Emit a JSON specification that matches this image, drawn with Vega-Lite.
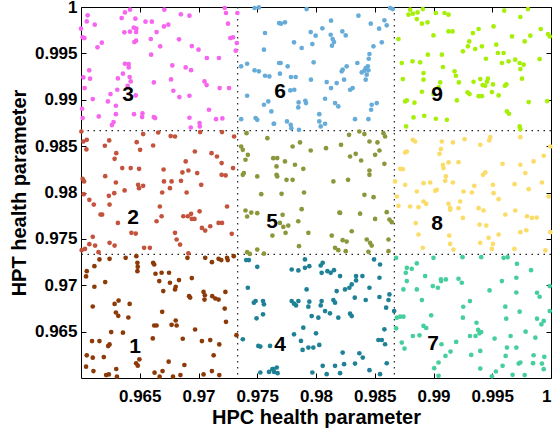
{
"$schema":"https://vega.github.io/schema/vega-lite/v6.json",
"width":470,"height":371,
"autosize":"none",
"padding":{"left":81,"top":7,"right":2,"bottom":51},
"background":"white",
"config":{"view":{"stroke":"black","strokeWidth":1},
"axis":{"labelFont":"Liberation Sans","labelFontWeight":"bold","labelFontSize":17,"labelColor":"black","titleFont":"Liberation Sans","titleFontWeight":"bold","titleFontSize":20,"titleColor":"black","grid":false,"domain":false,"tickColor":"black","tickSize":-5,"tickWidth":1}},
"datasets":{
"points":[
{"hpc":0.96049,"hpt":0.97152,"cluster":"1"},{"hpc":0.96114,"hpt":0.97206,"cluster":"1"},{"hpc":0.96157,"hpt":0.97278,"cluster":"1"},{"hpc":0.96243,"hpt":0.97285,"cluster":"1"},{"hpc":0.9638,"hpt":0.97296,"cluster":"1"},{"hpc":0.96471,"hpt":0.97314,"cluster":"1"},{"hpc":0.9648,"hpt":0.97242,"cluster":"1"},{"hpc":0.96483,"hpt":0.97199,"cluster":"1"},{"hpc":0.9648,"hpt":0.97152,"cluster":"1"},{"hpc":0.96614,"hpt":0.97242,"cluster":"1"},{"hpc":0.96623,"hpt":0.97224,"cluster":"1"},{"hpc":0.96634,"hpt":0.97124,"cluster":"1"},{"hpc":0.96686,"hpt":0.97135,"cluster":"1"},{"hpc":0.96666,"hpt":0.97045,"cluster":"1"},{"hpc":0.967,"hpt":0.96937,"cluster":"1"},{"hpc":0.96749,"hpt":0.97135,"cluster":"1"},{"hpc":0.96757,"hpt":0.97027,"cluster":"1"},{"hpc":0.968,"hpt":0.96955,"cluster":"1"},{"hpc":0.96806,"hpt":0.96984,"cluster":"1"},{"hpc":0.96834,"hpt":0.97056,"cluster":"1"},{"hpc":0.96906,"hpt":0.97296,"cluster":"1"},{"hpc":0.96943,"hpt":0.97077,"cluster":"1"},{"hpc":0.9692,"hpt":0.96882,"cluster":"1"},{"hpc":0.96929,"hpt":0.96867,"cluster":"1"},{"hpc":0.97043,"hpt":0.96928,"cluster":"1"},{"hpc":0.97054,"hpt":0.96892,"cluster":"1"},{"hpc":0.97051,"hpt":0.96846,"cluster":"1"},{"hpc":0.97057,"hpt":0.97296,"cluster":"1"},{"hpc":0.97114,"hpt":0.97249,"cluster":"1"},{"hpc":0.97171,"hpt":0.97285,"cluster":"1"},{"hpc":0.97194,"hpt":0.97271,"cluster":"1"},{"hpc":0.97243,"hpt":0.97296,"cluster":"1"},{"hpc":0.97249,"hpt":0.97271,"cluster":"1"},{"hpc":0.973,"hpt":0.97314,"cluster":"1"},{"hpc":0.97229,"hpt":0.96928,"cluster":"1"},{"hpc":0.97117,"hpt":0.96882,"cluster":"1"},{"hpc":0.97143,"hpt":0.96857,"cluster":"1"},{"hpc":0.97171,"hpt":0.96846,"cluster":"1"},{"hpc":0.97223,"hpt":0.96749,"cluster":"1"},{"hpc":0.97234,"hpt":0.96606,"cluster":"1"},{"hpc":0.97323,"hpt":0.96462,"cluster":"1"},{"hpc":0.96043,"hpt":0.97095,"cluster":"1"},{"hpc":0.96114,"hpt":0.96984,"cluster":"1"},{"hpc":0.96206,"hpt":0.97034,"cluster":"1"},{"hpc":0.961,"hpt":0.96771,"cluster":"1"},{"hpc":0.96286,"hpt":0.96799,"cluster":"1"},{"hpc":0.9632,"hpt":0.96835,"cluster":"1"},{"hpc":0.96297,"hpt":0.96706,"cluster":"1"},{"hpc":0.96317,"hpt":0.9667,"cluster":"1"},{"hpc":0.96403,"hpt":0.96652,"cluster":"1"},{"hpc":0.96414,"hpt":0.96799,"cluster":"1"},{"hpc":0.96357,"hpt":0.96489,"cluster":"1"},{"hpc":0.96257,"hpt":0.96495,"cluster":"1"},{"hpc":0.96243,"hpt":0.96362,"cluster":"1"},{"hpc":0.96231,"hpt":0.96344,"cluster":"1"},{"hpc":0.96157,"hpt":0.96398,"cluster":"1"},{"hpc":0.96094,"hpt":0.96398,"cluster":"1"},{"hpc":0.96049,"hpt":0.96244,"cluster":"1"},{"hpc":0.961,"hpt":0.96219,"cluster":"1"},{"hpc":0.96043,"hpt":0.96122,"cluster":"1"},{"hpc":0.96106,"hpt":0.96075,"cluster":"1"},{"hpc":0.96194,"hpt":0.96226,"cluster":"1"},{"hpc":0.96214,"hpt":0.96032,"cluster":"1"},{"hpc":0.96237,"hpt":0.96039,"cluster":"1"},{"hpc":0.963,"hpt":0.96097,"cluster":"1"},{"hpc":0.96306,"hpt":0.96014,"cluster":"1"},{"hpc":0.96469,"hpt":0.96158,"cluster":"1"},{"hpc":0.96483,"hpt":0.96133,"cluster":"1"},{"hpc":0.96497,"hpt":0.96201,"cluster":"1"},{"hpc":0.96611,"hpt":0.96427,"cluster":"1"},{"hpc":0.96623,"hpt":0.96566,"cluster":"1"},{"hpc":0.96643,"hpt":0.96566,"cluster":"1"},{"hpc":0.96691,"hpt":0.96713,"cluster":"1"},{"hpc":0.96626,"hpt":0.96057,"cluster":"1"},{"hpc":0.96669,"hpt":0.96014,"cluster":"1"},{"hpc":0.96694,"hpt":0.96075,"cluster":"1"},{"hpc":0.96746,"hpt":0.96176,"cluster":"1"},{"hpc":0.96783,"hpt":0.96014,"cluster":"1"},{"hpc":0.96846,"hpt":0.96032,"cluster":"1"},{"hpc":0.9688,"hpt":0.9614,"cluster":"1"},{"hpc":0.96771,"hpt":0.96573,"cluster":"1"},{"hpc":0.96806,"hpt":0.9662,"cluster":"1"},{"hpc":0.96814,"hpt":0.96566,"cluster":"1"},{"hpc":0.96866,"hpt":0.96423,"cluster":"1"},{"hpc":0.96971,"hpt":0.96523,"cluster":"1"},{"hpc":0.97029,"hpt":0.96398,"cluster":"1"},{"hpc":0.971,"hpt":0.96409,"cluster":"1"},{"hpc":0.97177,"hpt":0.96362,"cluster":"1"},{"hpc":0.97129,"hpt":0.96244,"cluster":"1"},{"hpc":0.97114,"hpt":0.96075,"cluster":"1"},{"hpc":0.97043,"hpt":0.96039,"cluster":"1"},{"hpc":0.97177,"hpt":0.96032,"cluster":"1"},
{"hpc":0.96003,"hpt":0.98658,"cluster":"2"},{"hpc":0.9602,"hpt":0.9855,"cluster":"2"},{"hpc":0.96049,"hpt":0.98568,"cluster":"2"},{"hpc":0.96046,"hpt":0.98464,"cluster":"2"},{"hpc":0.96014,"hpt":0.98147,"cluster":"2"},{"hpc":0.96026,"hpt":0.98119,"cluster":"2"},{"hpc":0.96023,"hpt":0.97982,"cluster":"2"},{"hpc":0.96071,"hpt":0.97921,"cluster":"2"},{"hpc":0.96109,"hpt":0.9787,"cluster":"2"},{"hpc":0.96203,"hpt":0.98504,"cluster":"2"},{"hpc":0.9624,"hpt":0.98561,"cluster":"2"},{"hpc":0.963,"hpt":0.98424,"cluster":"2"},{"hpc":0.96286,"hpt":0.98363,"cluster":"2"},{"hpc":0.96297,"hpt":0.98108,"cluster":"2"},{"hpc":0.96283,"hpt":0.97993,"cluster":"2"},{"hpc":0.96237,"hpt":0.97964,"cluster":"2"},{"hpc":0.96243,"hpt":0.9787,"cluster":"2"},{"hpc":0.96206,"hpt":0.98176,"cluster":"2"},{"hpc":0.96166,"hpt":0.97763,"cluster":"2"},{"hpc":0.96351,"hpt":0.98263,"cluster":"2"},{"hpc":0.96371,"hpt":0.98022,"cluster":"2"},{"hpc":0.96423,"hpt":0.98263,"cluster":"2"},{"hpc":0.96474,"hpt":0.98543,"cluster":"2"},{"hpc":0.96503,"hpt":0.9846,"cluster":"2"},{"hpc":0.96494,"hpt":0.98255,"cluster":"2"},{"hpc":0.96486,"hpt":0.98083,"cluster":"2"},{"hpc":0.96494,"hpt":0.98047,"cluster":"2"},{"hpc":0.96529,"hpt":0.98072,"cluster":"2"},{"hpc":0.96529,"hpt":0.9863,"cluster":"2"},{"hpc":0.96614,"hpt":0.98507,"cluster":"2"},{"hpc":0.96657,"hpt":0.98647,"cluster":"2"},{"hpc":0.96703,"hpt":0.98248,"cluster":"2"},{"hpc":0.96706,"hpt":0.98119,"cluster":"2"},{"hpc":0.96691,"hpt":0.98,"cluster":"2"},{"hpc":0.96671,"hpt":0.97849,"cluster":"2"},{"hpc":0.96763,"hpt":0.98608,"cluster":"2"},{"hpc":0.968,"hpt":0.98604,"cluster":"2"},{"hpc":0.96771,"hpt":0.98119,"cluster":"2"},{"hpc":0.96757,"hpt":0.98047,"cluster":"2"},{"hpc":0.96851,"hpt":0.98126,"cluster":"2"},{"hpc":0.96863,"hpt":0.98216,"cluster":"2"},{"hpc":0.96891,"hpt":0.98335,"cluster":"2"},{"hpc":0.96914,"hpt":0.98237,"cluster":"2"},{"hpc":0.96899,"hpt":0.98,"cluster":"2"},{"hpc":0.96937,"hpt":0.9777,"cluster":"2"},{"hpc":0.96969,"hpt":0.98442,"cluster":"2"},{"hpc":0.96989,"hpt":0.98209,"cluster":"2"},{"hpc":0.97023,"hpt":0.98083,"cluster":"2"},{"hpc":0.97014,"hpt":0.98651,"cluster":"2"},{"hpc":0.97111,"hpt":0.98424,"cluster":"2"},{"hpc":0.97157,"hpt":0.98388,"cluster":"2"},{"hpc":0.97197,"hpt":0.98317,"cluster":"2"},{"hpc":0.97197,"hpt":0.98191,"cluster":"2"},{"hpc":0.97243,"hpt":0.97849,"cluster":"2"},{"hpc":0.97294,"hpt":0.98263,"cluster":"2"},{"hpc":0.97303,"hpt":0.98604,"cluster":"2"},{"hpc":0.97231,"hpt":0.98184,"cluster":"2"},{"hpc":0.972,"hpt":0.98651,"cluster":"2"},{"hpc":0.9618,"hpt":0.97762,"cluster":"2"},{"hpc":0.96314,"hpt":0.97672,"cluster":"2"},{"hpc":0.96429,"hpt":0.97565,"cluster":"2"},{"hpc":0.96466,"hpt":0.97557,"cluster":"2"},{"hpc":0.96243,"hpt":0.97457,"cluster":"2"},{"hpc":0.96286,"hpt":0.97428,"cluster":"2"},{"hpc":0.961,"hpt":0.97522,"cluster":"2"},{"hpc":0.9612,"hpt":0.97428,"cluster":"2"},{"hpc":0.96071,"hpt":0.97443,"cluster":"2"},{"hpc":0.96006,"hpt":0.97378,"cluster":"2"},{"hpc":0.96034,"hpt":0.97392,"cluster":"2"},{"hpc":0.96149,"hpt":0.97357,"cluster":"2"},{"hpc":0.96537,"hpt":0.97403,"cluster":"2"},{"hpc":0.96586,"hpt":0.97403,"cluster":"2"},{"hpc":0.96643,"hpt":0.9769,"cluster":"2"},{"hpc":0.96686,"hpt":0.97744,"cluster":"2"},{"hpc":0.968,"hpt":0.97565,"cluster":"2"},{"hpc":0.96814,"hpt":0.97493,"cluster":"2"},{"hpc":0.96843,"hpt":0.97439,"cluster":"2"},{"hpc":0.96871,"hpt":0.97744,"cluster":"2"},{"hpc":0.96909,"hpt":0.97744,"cluster":"2"},{"hpc":0.96943,"hpt":0.97715,"cluster":"2"},{"hpc":0.96966,"hpt":0.97715,"cluster":"2"},{"hpc":0.97009,"hpt":0.97797,"cluster":"2"},{"hpc":0.97029,"hpt":0.97618,"cluster":"2"},{"hpc":0.97057,"hpt":0.97589,"cluster":"2"},{"hpc":0.971,"hpt":0.97636,"cluster":"2"},{"hpc":0.97171,"hpt":0.97672,"cluster":"2"},{"hpc":0.972,"hpt":0.97672,"cluster":"2"},{"hpc":0.97283,"hpt":0.97554,"cluster":"2"},{"hpc":0.96914,"hpt":0.97345,"cluster":"2"},
{"hpc":0.96,"hpt":0.99766,"cluster":"3"},{"hpc":0.96014,"hpt":0.99673,"cluster":"3"},{"hpc":0.96029,"hpt":0.99665,"cluster":"3"},{"hpc":0.96057,"hpt":0.9991,"cluster":"3"},{"hpc":0.96049,"hpt":0.99845,"cluster":"3"},{"hpc":0.96117,"hpt":0.99809,"cluster":"3"},{"hpc":0.9614,"hpt":0.99565,"cluster":"3"},{"hpc":0.96177,"hpt":0.99615,"cluster":"3"},{"hpc":0.9602,"hpt":0.99241,"cluster":"3"},{"hpc":0.96031,"hpt":0.99126,"cluster":"3"},{"hpc":0.96077,"hpt":0.99227,"cluster":"3"},{"hpc":0.9607,"hpt":0.99317,"cluster":"3"},{"hpc":0.961,"hpt":0.99007,"cluster":"3"},{"hpc":0.96009,"hpt":0.98903,"cluster":"3"},{"hpc":0.96014,"hpt":0.98802,"cluster":"3"},{"hpc":0.96151,"hpt":0.9882,"cluster":"3"},{"hpc":0.96229,"hpt":0.98982,"cluster":"3"},{"hpc":0.96251,"hpt":0.99061,"cluster":"3"},{"hpc":0.96263,"hpt":0.98727,"cluster":"3"},{"hpc":0.96277,"hpt":0.98759,"cluster":"3"},{"hpc":0.96297,"hpt":0.98845,"cluster":"3"},{"hpc":0.96314,"hpt":0.9923,"cluster":"3"},{"hpc":0.96297,"hpt":0.98935,"cluster":"3"},{"hpc":0.96309,"hpt":0.99108,"cluster":"3"},{"hpc":0.96346,"hpt":0.99881,"cluster":"3"},{"hpc":0.96374,"hpt":0.99942,"cluster":"3"},{"hpc":0.96417,"hpt":0.99971,"cluster":"3"},{"hpc":0.96369,"hpt":0.99727,"cluster":"3"},{"hpc":0.96417,"hpt":0.99734,"cluster":"3"},{"hpc":0.96449,"hpt":0.99777,"cluster":"3"},{"hpc":0.96471,"hpt":0.99766,"cluster":"3"},{"hpc":0.96469,"hpt":0.9973,"cluster":"3"},{"hpc":0.96454,"hpt":0.99622,"cluster":"3"},{"hpc":0.96469,"hpt":0.99637,"cluster":"3"},{"hpc":0.96463,"hpt":0.99874,"cluster":"3"},{"hpc":0.96357,"hpt":0.99281,"cluster":"3"},{"hpc":0.96374,"hpt":0.99388,"cluster":"3"},{"hpc":0.96406,"hpt":0.99385,"cluster":"3"},{"hpc":0.96406,"hpt":0.99349,"cluster":"3"},{"hpc":0.96397,"hpt":0.99151,"cluster":"3"},{"hpc":0.96414,"hpt":0.99245,"cluster":"3"},{"hpc":0.96423,"hpt":0.99198,"cluster":"3"},{"hpc":0.96466,"hpt":0.99047,"cluster":"3"},{"hpc":0.96451,"hpt":0.98845,"cluster":"3"},{"hpc":0.96523,"hpt":0.98853,"cluster":"3"},{"hpc":0.9652,"hpt":0.98813,"cluster":"3"},{"hpc":0.96549,"hpt":0.99842,"cluster":"3"},{"hpc":0.96603,"hpt":0.99842,"cluster":"3"},{"hpc":0.96594,"hpt":0.99655,"cluster":"3"},{"hpc":0.96597,"hpt":0.99486,"cluster":"3"},{"hpc":0.9662,"hpt":0.99187,"cluster":"3"},{"hpc":0.9662,"hpt":0.98813,"cluster":"3"},{"hpc":0.96631,"hpt":0.98802,"cluster":"3"},{"hpc":0.96674,"hpt":0.99576,"cluster":"3"},{"hpc":0.96643,"hpt":0.9973,"cluster":"3"},{"hpc":0.96706,"hpt":0.99791,"cluster":"3"},{"hpc":0.96743,"hpt":0.99809,"cluster":"3"},{"hpc":0.96709,"hpt":0.99971,"cluster":"3"},{"hpc":0.96766,"hpt":0.99219,"cluster":"3"},{"hpc":0.96786,"hpt":0.99097,"cluster":"3"},{"hpc":0.96777,"hpt":0.9937,"cluster":"3"},{"hpc":0.96837,"hpt":0.99029,"cluster":"3"},{"hpc":0.9685,"hpt":0.99921,"cluster":"3"},{"hpc":0.96923,"hpt":0.99906,"cluster":"3"},{"hpc":0.96834,"hpt":0.99651,"cluster":"3"},{"hpc":0.96943,"hpt":0.99579,"cluster":"3"},{"hpc":0.96891,"hpt":0.99349,"cluster":"3"},{"hpc":0.96937,"hpt":0.99319,"cluster":"3"},{"hpc":0.96923,"hpt":0.99043,"cluster":"3"},{"hpc":0.96923,"hpt":0.98806,"cluster":"3"},{"hpc":0.96934,"hpt":0.98701,"cluster":"3"},{"hpc":0.97,"hpt":0.9954,"cluster":"3"},{"hpc":0.97011,"hpt":0.98712,"cluster":"3"},{"hpc":0.97009,"hpt":0.98748,"cluster":"3"},{"hpc":0.97051,"hpt":0.99198,"cluster":"3"},{"hpc":0.97069,"hpt":0.99158,"cluster":"3"},{"hpc":0.97089,"hpt":0.98892,"cluster":"3"},{"hpc":0.97071,"hpt":0.9945,"cluster":"3"},{"hpc":0.97149,"hpt":0.98791,"cluster":"3"},{"hpc":0.97203,"hpt":0.98799,"cluster":"3"},{"hpc":0.97174,"hpt":0.9945,"cluster":"3"},{"hpc":0.9718,"hpt":0.99126,"cluster":"3"},{"hpc":0.9726,"hpt":0.99126,"cluster":"3"},{"hpc":0.97223,"hpt":0.99989,"cluster":"3"},{"hpc":0.97234,"hpt":0.99935,"cluster":"3"},{"hpc":0.97251,"hpt":0.9982,"cluster":"3"},{"hpc":0.97271,"hpt":0.99665,"cluster":"3"},{"hpc":0.97294,"hpt":0.99673,"cluster":"3"},{"hpc":0.97326,"hpt":0.99612,"cluster":"3"},{"hpc":0.97317,"hpt":0.99529,"cluster":"3"},{"hpc":0.97331,"hpt":0.99935,"cluster":"3"},
{"hpc":0.97406,"hpt":0.97271,"cluster":"4"},{"hpc":0.97429,"hpt":0.97271,"cluster":"4"},{"hpc":0.975,"hpt":0.97199,"cluster":"4"},{"hpc":0.9742,"hpt":0.96973,"cluster":"4"},{"hpc":0.97486,"hpt":0.9683,"cluster":"4"},{"hpc":0.97471,"hpt":0.96812,"cluster":"4"},{"hpc":0.97549,"hpt":0.9683,"cluster":"4"},{"hpc":0.97557,"hpt":0.96794,"cluster":"4"},{"hpc":0.97494,"hpt":0.96643,"cluster":"4"},{"hpc":0.97549,"hpt":0.96686,"cluster":"4"},{"hpc":0.97377,"hpt":0.96418,"cluster":"4"},{"hpc":0.97509,"hpt":0.96346,"cluster":"4"},{"hpc":0.97526,"hpt":0.96339,"cluster":"4"},{"hpc":0.97609,"hpt":0.96346,"cluster":"4"},{"hpc":0.97526,"hpt":0.96059,"cluster":"4"},{"hpc":0.976,"hpt":0.96066,"cluster":"4"},{"hpc":0.97629,"hpt":0.96095,"cluster":"4"},{"hpc":0.97666,"hpt":0.96113,"cluster":"4"},{"hpc":0.97643,"hpt":0.96066,"cluster":"4"},{"hpc":0.97793,"hpt":0.9717,"cluster":"4"},{"hpc":0.9785,"hpt":0.9716,"cluster":"4"},{"hpc":0.97906,"hpt":0.97188,"cluster":"4"},{"hpc":0.97943,"hpt":0.97206,"cluster":"4"},{"hpc":0.97906,"hpt":0.97278,"cluster":"4"},{"hpc":0.9804,"hpt":0.97213,"cluster":"4"},{"hpc":0.98057,"hpt":0.97242,"cluster":"4"},{"hpc":0.98048,"hpt":0.97134,"cluster":"4"},{"hpc":0.98097,"hpt":0.97152,"cluster":"4"},{"hpc":0.98125,"hpt":0.97134,"cluster":"4"},{"hpc":0.98153,"hpt":0.97163,"cluster":"4"},{"hpc":0.98205,"hpt":0.97099,"cluster":"4"},{"hpc":0.98284,"hpt":0.96973,"cluster":"4"},{"hpc":0.98304,"hpt":0.97009,"cluster":"4"},{"hpc":0.98341,"hpt":0.97099,"cluster":"4"},{"hpc":0.98341,"hpt":0.97052,"cluster":"4"},{"hpc":0.98395,"hpt":0.97099,"cluster":"4"},{"hpc":0.9854,"hpt":0.97081,"cluster":"4"},{"hpc":0.98455,"hpt":0.96973,"cluster":"4"},{"hpc":0.98494,"hpt":0.97278,"cluster":"4"},{"hpc":0.98545,"hpt":0.97224,"cluster":"4"},{"hpc":0.98247,"hpt":0.96955,"cluster":"4"},{"hpc":0.98176,"hpt":0.96937,"cluster":"4"},{"hpc":0.9833,"hpt":0.96866,"cluster":"4"},{"hpc":0.98423,"hpt":0.96841,"cluster":"4"},{"hpc":0.9854,"hpt":0.96873,"cluster":"4"},{"hpc":0.98625,"hpt":0.96901,"cluster":"4"},{"hpc":0.98617,"hpt":0.96841,"cluster":"4"},{"hpc":0.98597,"hpt":0.96758,"cluster":"4"},{"hpc":0.98665,"hpt":0.96722,"cluster":"4"},{"hpc":0.97793,"hpt":0.9683,"cluster":"4"},{"hpc":0.97813,"hpt":0.96801,"cluster":"4"},{"hpc":0.9785,"hpt":0.9683,"cluster":"4"},{"hpc":0.9783,"hpt":0.96783,"cluster":"4"},{"hpc":0.97943,"hpt":0.96823,"cluster":"4"},{"hpc":0.97935,"hpt":0.96769,"cluster":"4"},{"hpc":0.9792,"hpt":0.96955,"cluster":"4"},{"hpc":0.98048,"hpt":0.9683,"cluster":"4"},{"hpc":0.9804,"hpt":0.96783,"cluster":"4"},{"hpc":0.98148,"hpt":0.96841,"cluster":"4"},{"hpc":0.98162,"hpt":0.96812,"cluster":"4"},{"hpc":0.98077,"hpt":0.96722,"cluster":"4"},{"hpc":0.98119,"hpt":0.96697,"cluster":"4"},{"hpc":0.97963,"hpt":0.96668,"cluster":"4"},{"hpc":0.9802,"hpt":0.9665,"cluster":"4"},{"hpc":0.9819,"hpt":0.9665,"cluster":"4"},{"hpc":0.9829,"hpt":0.96694,"cluster":"4"},{"hpc":0.98304,"hpt":0.96668,"cluster":"4"},{"hpc":0.97892,"hpt":0.96543,"cluster":"4"},{"hpc":0.98,"hpt":0.96482,"cluster":"4"},{"hpc":0.97813,"hpt":0.96471,"cluster":"4"},{"hpc":0.97872,"hpt":0.964,"cluster":"4"},{"hpc":0.97886,"hpt":0.96303,"cluster":"4"},{"hpc":0.97935,"hpt":0.96328,"cluster":"4"},{"hpc":0.97977,"hpt":0.96328,"cluster":"4"},{"hpc":0.98028,"hpt":0.96357,"cluster":"4"},{"hpc":0.98227,"hpt":0.96274,"cluster":"4"},{"hpc":0.98332,"hpt":0.96156,"cluster":"4"},{"hpc":0.98369,"hpt":0.96267,"cluster":"4"},{"hpc":0.98398,"hpt":0.9622,"cluster":"4"},{"hpc":0.98455,"hpt":0.96084,"cluster":"4"},{"hpc":0.98531,"hpt":0.9641,"cluster":"4"},{"hpc":0.9856,"hpt":0.9641,"cluster":"4"},{"hpc":0.98582,"hpt":0.96525,"cluster":"4"},{"hpc":0.98588,"hpt":0.96364,"cluster":"4"},{"hpc":0.98602,"hpt":0.96159,"cluster":"4"},{"hpc":0.98545,"hpt":0.96041,"cluster":"4"},{"hpc":0.98057,"hpt":0.96131,"cluster":"4"},{"hpc":0.98091,"hpt":0.96041,"cluster":"4"},{"hpc":0.98162,"hpt":0.96131,"cluster":"4"},{"hpc":0.98205,"hpt":0.96052,"cluster":"4"},{"hpc":0.98239,"hpt":0.96149,"cluster":"4"},{"hpc":0.97969,"hpt":0.96059,"cluster":"4"},{"hpc":0.97636,"hpt":0.96095,"cluster":"4"},{"hpc":0.97673,"hpt":0.96052,"cluster":"4"},
{"hpc":0.97409,"hpt":0.9864,"cluster":"5"},{"hpc":0.97363,"hpt":0.98496,"cluster":"5"},{"hpc":0.97377,"hpt":0.9846,"cluster":"5"},{"hpc":0.9742,"hpt":0.98406,"cluster":"5"},{"hpc":0.974,"hpt":0.98353,"cluster":"5"},{"hpc":0.97386,"hpt":0.98209,"cluster":"5"},{"hpc":0.97377,"hpt":0.98191,"cluster":"5"},{"hpc":0.975,"hpt":0.98173,"cluster":"5"},{"hpc":0.97534,"hpt":0.97982,"cluster":"5"},{"hpc":0.97586,"hpt":0.98586,"cluster":"5"},{"hpc":0.9767,"hpt":0.98371,"cluster":"5"},{"hpc":0.9767,"hpt":0.98173,"cluster":"5"},{"hpc":0.974,"hpt":0.97806,"cluster":"5"},{"hpc":0.97414,"hpt":0.97741,"cluster":"5"},{"hpc":0.97449,"hpt":0.97784,"cluster":"5"},{"hpc":0.975,"hpt":0.97777,"cluster":"5"},{"hpc":0.97414,"hpt":0.97357,"cluster":"5"},{"hpc":0.97437,"hpt":0.97338,"cluster":"5"},{"hpc":0.975,"hpt":0.97385,"cluster":"5"},{"hpc":0.97557,"hpt":0.9734,"cluster":"5"},{"hpc":0.97629,"hpt":0.97536,"cluster":"5"},{"hpc":0.97636,"hpt":0.9837,"cluster":"5"},{"hpc":0.97664,"hpt":0.98281,"cluster":"5"},{"hpc":0.97664,"hpt":0.98191,"cluster":"5"},{"hpc":0.97736,"hpt":0.98335,"cluster":"5"},{"hpc":0.97749,"hpt":0.98137,"cluster":"5"},{"hpc":0.97801,"hpt":0.98137,"cluster":"5"},{"hpc":0.97821,"hpt":0.98299,"cluster":"5"},{"hpc":0.97801,"hpt":0.98496,"cluster":"5"},{"hpc":0.97864,"hpt":0.9854,"cluster":"5"},{"hpc":0.97892,"hpt":0.98255,"cluster":"5"},{"hpc":0.97898,"hpt":0.98,"cluster":"5"},{"hpc":0.97955,"hpt":0.98453,"cluster":"5"},{"hpc":0.98085,"hpt":0.98478,"cluster":"5"},{"hpc":0.98148,"hpt":0.98119,"cluster":"5"},{"hpc":0.98213,"hpt":0.98514,"cluster":"5"},{"hpc":0.98281,"hpt":0.98622,"cluster":"5"},{"hpc":0.98369,"hpt":0.98658,"cluster":"5"},{"hpc":0.98412,"hpt":0.9863,"cluster":"5"},{"hpc":0.98455,"hpt":0.9855,"cluster":"5"},{"hpc":0.98523,"hpt":0.9854,"cluster":"5"},{"hpc":0.98588,"hpt":0.98604,"cluster":"5"},{"hpc":0.98574,"hpt":0.9864,"cluster":"5"},{"hpc":0.98384,"hpt":0.98345,"cluster":"5"},{"hpc":0.9829,"hpt":0.98388,"cluster":"5"},{"hpc":0.98338,"hpt":0.98417,"cluster":"5"},{"hpc":0.98503,"hpt":0.98406,"cluster":"5"},{"hpc":0.9854,"hpt":0.98453,"cluster":"5"},{"hpc":0.98455,"hpt":0.98237,"cluster":"5"},{"hpc":0.98455,"hpt":0.98191,"cluster":"5"},{"hpc":0.98582,"hpt":0.98309,"cluster":"5"},{"hpc":0.98273,"hpt":0.98137,"cluster":"5"},{"hpc":0.98412,"hpt":0.97975,"cluster":"5"},{"hpc":0.9849,"hpt":0.9795,"cluster":"5"},{"hpc":0.98602,"hpt":0.97788,"cluster":"5"},{"hpc":0.98199,"hpt":0.97784,"cluster":"5"},{"hpc":0.97878,"hpt":0.9782,"cluster":"5"},{"hpc":0.97707,"hpt":0.97986,"cluster":"5"},{"hpc":0.97716,"hpt":0.97759,"cluster":"5"},{"hpc":0.97693,"hpt":0.97672,"cluster":"5"},{"hpc":0.97722,"hpt":0.97629,"cluster":"5"},{"hpc":0.97764,"hpt":0.97643,"cluster":"5"},{"hpc":0.97741,"hpt":0.97565,"cluster":"5"},{"hpc":0.97849,"hpt":0.9769,"cluster":"5"},{"hpc":0.97935,"hpt":0.97565,"cluster":"5"},{"hpc":0.97855,"hpt":0.97421,"cluster":"5"},{"hpc":0.98134,"hpt":0.97536,"cluster":"5"},{"hpc":0.98205,"hpt":0.9778,"cluster":"5"},{"hpc":0.98304,"hpt":0.97582,"cluster":"5"},{"hpc":0.98375,"hpt":0.97772,"cluster":"5"},{"hpc":0.98503,"hpt":0.97715,"cluster":"5"},{"hpc":0.98625,"hpt":0.97708,"cluster":"5"},{"hpc":0.98645,"hpt":0.9768,"cluster":"5"},{"hpc":0.98617,"hpt":0.97493,"cluster":"5"},{"hpc":0.98432,"hpt":0.97493,"cluster":"5"},{"hpc":0.9846,"hpt":0.97457,"cluster":"5"},{"hpc":0.98474,"hpt":0.97428,"cluster":"5"},{"hpc":0.98227,"hpt":0.97486,"cluster":"5"},{"hpc":0.98261,"hpt":0.97471,"cluster":"5"},{"hpc":0.98162,"hpt":0.97403,"cluster":"5"},{"hpc":0.9819,"hpt":0.97378,"cluster":"5"},{"hpc":0.98253,"hpt":0.97367,"cluster":"5"},{"hpc":0.98446,"hpt":0.9736,"cluster":"5"},{"hpc":0.98617,"hpt":0.97367,"cluster":"5"},
{"hpc":0.97477,"hpt":0.99989,"cluster":"6"},{"hpc":0.97514,"hpt":0.99995,"cluster":"6"},{"hpc":0.97566,"hpt":0.9972,"cluster":"6"},{"hpc":0.97557,"hpt":0.9954,"cluster":"6"},{"hpc":0.97363,"hpt":0.9936,"cluster":"6"},{"hpc":0.97414,"hpt":0.99388,"cluster":"6"},{"hpc":0.97477,"hpt":0.99317,"cluster":"6"},{"hpc":0.97514,"hpt":0.99306,"cluster":"6"},{"hpc":0.97566,"hpt":0.99259,"cluster":"6"},{"hpc":0.97603,"hpt":0.99252,"cluster":"6"},{"hpc":0.97414,"hpt":0.99043,"cluster":"6"},{"hpc":0.97594,"hpt":0.98982,"cluster":"6"},{"hpc":0.9762,"hpt":0.98874,"cluster":"6"},{"hpc":0.97557,"hpt":0.98946,"cluster":"6"},{"hpc":0.97363,"hpt":0.98791,"cluster":"6"},{"hpc":0.97486,"hpt":0.98802,"cluster":"6"},{"hpc":0.975,"hpt":0.98784,"cluster":"6"},{"hpc":0.97643,"hpt":0.98741,"cluster":"6"},{"hpc":0.97686,"hpt":0.99827,"cluster":"6"},{"hpc":0.97686,"hpt":0.99396,"cluster":"6"},{"hpc":0.9792,"hpt":0.99978,"cluster":"6"},{"hpc":0.97702,"hpt":0.9982,"cluster":"6"},{"hpc":0.97736,"hpt":0.99835,"cluster":"6"},{"hpc":0.97813,"hpt":0.99619,"cluster":"6"},{"hpc":0.97878,"hpt":0.99558,"cluster":"6"},{"hpc":0.97955,"hpt":0.9973,"cluster":"6"},{"hpc":0.97997,"hpt":0.99691,"cluster":"6"},{"hpc":0.97969,"hpt":0.996,"cluster":"6"},{"hpc":0.98054,"hpt":0.9977,"cluster":"6"},{"hpc":0.98128,"hpt":0.99853,"cluster":"6"},{"hpc":0.98125,"hpt":0.99701,"cluster":"6"},{"hpc":0.98142,"hpt":0.99655,"cluster":"6"},{"hpc":0.98153,"hpt":0.99622,"cluster":"6"},{"hpc":0.98136,"hpt":0.99583,"cluster":"6"},{"hpc":0.98224,"hpt":0.99737,"cluster":"6"},{"hpc":0.98253,"hpt":0.99694,"cluster":"6"},{"hpc":0.98361,"hpt":0.99906,"cluster":"6"},{"hpc":0.98466,"hpt":0.9982,"cluster":"6"},{"hpc":0.98537,"hpt":0.99766,"cluster":"6"},{"hpc":0.98582,"hpt":0.99856,"cluster":"6"},{"hpc":0.98602,"hpt":0.99802,"cluster":"6"},{"hpc":0.9856,"hpt":0.99619,"cluster":"6"},{"hpc":0.98489,"hpt":0.99576,"cluster":"6"},{"hpc":0.98455,"hpt":0.99493,"cluster":"6"},{"hpc":0.98449,"hpt":0.99442,"cluster":"6"},{"hpc":0.98441,"hpt":0.9936,"cluster":"6"},{"hpc":0.98423,"hpt":0.99342,"cluster":"6"},{"hpc":0.98412,"hpt":0.99313,"cluster":"6"},{"hpc":0.98446,"hpt":0.99317,"cluster":"6"},{"hpc":0.98432,"hpt":0.9927,"cluster":"6"},{"hpc":0.98423,"hpt":0.99216,"cluster":"6"},{"hpc":0.98389,"hpt":0.99295,"cluster":"6"},{"hpc":0.98352,"hpt":0.99396,"cluster":"6"},{"hpc":0.98261,"hpt":0.9936,"cluster":"6"},{"hpc":0.98227,"hpt":0.99324,"cluster":"6"},{"hpc":0.98219,"hpt":0.99306,"cluster":"6"},{"hpc":0.98239,"hpt":0.99216,"cluster":"6"},{"hpc":0.98312,"hpt":0.99126,"cluster":"6"},{"hpc":0.9829,"hpt":0.99108,"cluster":"6"},{"hpc":0.98176,"hpt":0.9918,"cluster":"6"},{"hpc":0.98128,"hpt":0.99126,"cluster":"6"},{"hpc":0.98091,"hpt":0.99191,"cluster":"6"},{"hpc":0.9798,"hpt":0.99403,"cluster":"6"},{"hpc":0.97957,"hpt":0.99216,"cluster":"6"},{"hpc":0.97827,"hpt":0.99245,"cluster":"6"},{"hpc":0.97787,"hpt":0.99245,"cluster":"6"},{"hpc":0.97759,"hpt":0.9936,"cluster":"6"},{"hpc":0.97699,"hpt":0.99396,"cluster":"6"},{"hpc":0.97693,"hpt":0.99281,"cluster":"6"},{"hpc":0.97781,"hpt":0.99101,"cluster":"6"},{"hpc":0.97815,"hpt":0.99108,"cluster":"6"},{"hpc":0.97852,"hpt":0.98971,"cluster":"6"},{"hpc":0.97909,"hpt":0.98989,"cluster":"6"},{"hpc":0.97915,"hpt":0.98964,"cluster":"6"},{"hpc":0.97849,"hpt":0.98917,"cluster":"6"},{"hpc":0.98077,"hpt":0.99011,"cluster":"6"},{"hpc":0.98162,"hpt":0.98964,"cluster":"6"},{"hpc":0.9819,"hpt":0.98928,"cluster":"6"},{"hpc":0.98028,"hpt":0.98845,"cluster":"6"},{"hpc":0.98028,"hpt":0.98766,"cluster":"6"},{"hpc":0.9804,"hpt":0.98712,"cluster":"6"},{"hpc":0.98077,"hpt":0.98741,"cluster":"6"},{"hpc":0.98332,"hpt":0.98791,"cluster":"6"},{"hpc":0.98446,"hpt":0.98791,"cluster":"6"},{"hpc":0.98474,"hpt":0.98946,"cluster":"6"},{"hpc":0.98469,"hpt":0.98892,"cluster":"6"},{"hpc":0.98517,"hpt":0.98964,"cluster":"6"},{"hpc":0.97753,"hpt":0.98766,"cluster":"6"},{"hpc":0.97785,"hpt":0.9873,"cluster":"6"},{"hpc":0.9779,"hpt":0.98694,"cluster":"6"},{"hpc":0.97855,"hpt":0.98676,"cluster":"6"},{"hpc":0.9764,"hpt":0.98741,"cluster":"6"},{"hpc":0.98653,"hpt":0.99978,"cluster":"6"},{"hpc":0.98631,"hpt":0.99989,"cluster":"6"},
{"hpc":0.98682,"hpt":0.97296,"cluster":"7"},{"hpc":0.98773,"hpt":0.97188,"cluster":"7"},{"hpc":0.98764,"hpt":0.97134,"cluster":"7"},{"hpc":0.98815,"hpt":0.97177,"cluster":"7"},{"hpc":0.98858,"hpt":0.97235,"cluster":"7"},{"hpc":0.98929,"hpt":0.97099,"cluster":"7"},{"hpc":0.99,"hpt":0.97296,"cluster":"7"},{"hpc":0.99063,"hpt":0.97063,"cluster":"7"},{"hpc":0.99065,"hpt":0.97045,"cluster":"7"},{"hpc":0.99105,"hpt":0.97063,"cluster":"7"},{"hpc":0.98994,"hpt":0.96991,"cluster":"7"},{"hpc":0.99037,"hpt":0.96973,"cluster":"7"},{"hpc":0.99213,"hpt":0.9707,"cluster":"7"},{"hpc":0.99241,"hpt":0.97027,"cluster":"7"},{"hpc":0.99247,"hpt":0.97303,"cluster":"7"},{"hpc":0.99406,"hpt":0.97303,"cluster":"7"},{"hpc":0.99477,"hpt":0.96944,"cluster":"7"},{"hpc":0.9931,"hpt":0.96829,"cluster":"7"},{"hpc":0.99253,"hpt":0.96768,"cluster":"7"},{"hpc":0.9925,"hpt":0.9665,"cluster":"7"},{"hpc":0.99366,"hpt":0.96596,"cluster":"7"},{"hpc":0.9938,"hpt":0.96518,"cluster":"7"},{"hpc":0.99358,"hpt":0.96453,"cluster":"7"},{"hpc":0.9931,"hpt":0.96453,"cluster":"7"},{"hpc":0.99392,"hpt":0.96482,"cluster":"7"},{"hpc":0.99406,"hpt":0.96496,"cluster":"7"},{"hpc":0.99582,"hpt":0.97045,"cluster":"7"},{"hpc":0.99597,"hpt":0.97296,"cluster":"7"},{"hpc":0.99631,"hpt":0.97303,"cluster":"7"},{"hpc":0.9971,"hpt":0.97231,"cluster":"7"},{"hpc":0.9983,"hpt":0.97163,"cluster":"7"},{"hpc":0.99705,"hpt":0.97081,"cluster":"7"},{"hpc":0.99705,"hpt":0.96922,"cluster":"7"},{"hpc":0.99611,"hpt":0.96769,"cluster":"7"},{"hpc":0.99619,"hpt":0.9664,"cluster":"7"},{"hpc":0.99733,"hpt":0.96715,"cluster":"7"},{"hpc":0.99881,"hpt":0.96919,"cluster":"7"},{"hpc":0.99903,"hpt":0.96876,"cluster":"7"},{"hpc":0.99989,"hpt":0.96991,"cluster":"7"},{"hpc":0.99989,"hpt":0.96722,"cluster":"7"},{"hpc":0.99881,"hpt":0.9664,"cluster":"7"},{"hpc":0.99938,"hpt":0.96615,"cluster":"7"},{"hpc":0.99918,"hpt":0.96579,"cluster":"7"},{"hpc":0.99784,"hpt":0.965,"cluster":"7"},{"hpc":0.99656,"hpt":0.96453,"cluster":"7"},{"hpc":0.9952,"hpt":0.96425,"cluster":"7"},{"hpc":0.99705,"hpt":0.96328,"cluster":"7"},{"hpc":0.99625,"hpt":0.96328,"cluster":"7"},{"hpc":0.99614,"hpt":0.96238,"cluster":"7"},{"hpc":0.99398,"hpt":0.96292,"cluster":"7"},{"hpc":0.99321,"hpt":0.96249,"cluster":"7"},{"hpc":0.99867,"hpt":0.96435,"cluster":"7"},{"hpc":0.99852,"hpt":0.96245,"cluster":"7"},{"hpc":0.99847,"hpt":0.9616,"cluster":"7"},{"hpc":0.99923,"hpt":0.96156,"cluster":"7"},{"hpc":0.99943,"hpt":0.96228,"cluster":"7"},{"hpc":0.99938,"hpt":0.96095,"cluster":"7"},{"hpc":0.99739,"hpt":0.96167,"cluster":"7"},{"hpc":0.99725,"hpt":0.96156,"cluster":"7"},{"hpc":0.99588,"hpt":0.96131,"cluster":"7"},{"hpc":0.99531,"hpt":0.9607,"cluster":"7"},{"hpc":0.99673,"hpt":0.96034,"cluster":"7"},{"hpc":0.99776,"hpt":0.96031,"cluster":"7"},{"hpc":0.99497,"hpt":0.96018,"cluster":"7"},{"hpc":0.99398,"hpt":0.96102,"cluster":"7"},{"hpc":0.99193,"hpt":0.96389,"cluster":"7"},{"hpc":0.99145,"hpt":0.96285,"cluster":"7"},{"hpc":0.99102,"hpt":0.96238,"cluster":"7"},{"hpc":0.99068,"hpt":0.96364,"cluster":"7"},{"hpc":0.99043,"hpt":0.96167,"cluster":"7"},{"hpc":0.99006,"hpt":0.96106,"cluster":"7"},{"hpc":0.99043,"hpt":0.96023,"cluster":"7"},{"hpc":0.98915,"hpt":0.96561,"cluster":"7"},{"hpc":0.98938,"hpt":0.96539,"cluster":"7"},{"hpc":0.9898,"hpt":0.96676,"cluster":"7"},{"hpc":0.98824,"hpt":0.96453,"cluster":"7"},{"hpc":0.98881,"hpt":0.9646,"cluster":"7"},{"hpc":0.98716,"hpt":0.96661,"cluster":"7"},{"hpc":0.98744,"hpt":0.96661,"cluster":"7"},{"hpc":0.98688,"hpt":0.9665,"cluster":"7"},{"hpc":0.9873,"hpt":0.96382,"cluster":"7"},{"hpc":0.98753,"hpt":0.96317,"cluster":"7"},{"hpc":0.98682,"hpt":0.96536,"cluster":"7"},{"hpc":0.98773,"hpt":0.97045,"cluster":"7"},{"hpc":0.98744,"hpt":0.96955,"cluster":"7"},{"hpc":0.98858,"hpt":0.96955,"cluster":"7"},{"hpc":0.98901,"hpt":0.9684,"cluster":"7"},
{"hpc":0.98824,"hpt":0.98568,"cluster":"8"},{"hpc":0.98844,"hpt":0.9855,"cluster":"8"},{"hpc":0.98773,"hpt":0.98442,"cluster":"8"},{"hpc":0.98759,"hpt":0.98432,"cluster":"8"},{"hpc":0.99071,"hpt":0.9855,"cluster":"8"},{"hpc":0.99063,"hpt":0.98468,"cluster":"8"},{"hpc":0.99051,"hpt":0.98417,"cluster":"8"},{"hpc":0.99165,"hpt":0.9854,"cluster":"8"},{"hpc":0.99264,"hpt":0.98575,"cluster":"8"},{"hpc":0.99398,"hpt":0.98514,"cluster":"8"},{"hpc":0.99475,"hpt":0.98561,"cluster":"8"},{"hpc":0.99483,"hpt":0.98597,"cluster":"8"},{"hpc":0.99739,"hpt":0.98597,"cluster":"8"},{"hpc":0.99938,"hpt":0.98396,"cluster":"8"},{"hpc":0.99994,"hpt":0.98496,"cluster":"8"},{"hpc":0.9908,"hpt":0.98299,"cluster":"8"},{"hpc":0.99085,"hpt":0.98263,"cluster":"8"},{"hpc":0.99128,"hpt":0.98324,"cluster":"8"},{"hpc":0.99213,"hpt":0.98327,"cluster":"8"},{"hpc":0.99105,"hpt":0.98173,"cluster":"8"},{"hpc":0.991,"hpt":0.98126,"cluster":"8"},{"hpc":0.99421,"hpt":0.98191,"cluster":"8"},{"hpc":0.99441,"hpt":0.98216,"cluster":"8"},{"hpc":0.99588,"hpt":0.98309,"cluster":"8"},{"hpc":0.99739,"hpt":0.98299,"cluster":"8"},{"hpc":0.99852,"hpt":0.98335,"cluster":"8"},{"hpc":0.99781,"hpt":0.98209,"cluster":"8"},{"hpc":0.98716,"hpt":0.98255,"cluster":"8"},{"hpc":0.98739,"hpt":0.98252,"cluster":"8"},{"hpc":0.98673,"hpt":0.98119,"cluster":"8"},{"hpc":0.98759,"hpt":0.98083,"cluster":"8"},{"hpc":0.98858,"hpt":0.98011,"cluster":"8"},{"hpc":0.98915,"hpt":0.98101,"cluster":"8"},{"hpc":0.98972,"hpt":0.98108,"cluster":"8"},{"hpc":0.99014,"hpt":0.98018,"cluster":"8"},{"hpc":0.99028,"hpt":0.98029,"cluster":"8"},{"hpc":0.99165,"hpt":0.98108,"cluster":"8"},{"hpc":0.99256,"hpt":0.98011,"cluster":"8"},{"hpc":0.99347,"hpt":0.98072,"cluster":"8"},{"hpc":0.99327,"hpt":0.98,"cluster":"8"},{"hpc":0.99506,"hpt":0.98083,"cluster":"8"},{"hpc":0.9969,"hpt":0.9809,"cluster":"8"},{"hpc":0.9981,"hpt":0.98036,"cluster":"8"},{"hpc":0.99923,"hpt":0.98108,"cluster":"8"},{"hpc":0.9998,"hpt":0.97957,"cluster":"8"},{"hpc":0.98688,"hpt":0.97957,"cluster":"8"},{"hpc":0.98702,"hpt":0.97856,"cluster":"8"},{"hpc":0.98801,"hpt":0.97849,"cluster":"8"},{"hpc":0.98872,"hpt":0.97842,"cluster":"8"},{"hpc":0.98915,"hpt":0.97903,"cluster":"8"},{"hpc":0.98938,"hpt":0.97878,"cluster":"8"},{"hpc":0.99128,"hpt":0.97878,"cluster":"8"},{"hpc":0.99227,"hpt":0.97903,"cluster":"8"},{"hpc":0.99213,"hpt":0.97831,"cluster":"8"},{"hpc":0.99142,"hpt":0.97831,"cluster":"8"},{"hpc":0.99384,"hpt":0.97831,"cluster":"8"},{"hpc":0.99426,"hpt":0.97806,"cluster":"8"},{"hpc":0.99554,"hpt":0.97928,"cluster":"8"},{"hpc":0.99511,"hpt":0.97993,"cluster":"8"},{"hpc":0.99696,"hpt":0.97806,"cluster":"8"},{"hpc":0.99878,"hpt":0.9773,"cluster":"8"},{"hpc":0.98849,"hpt":0.9767,"cluster":"8"},{"hpc":0.98872,"hpt":0.97547,"cluster":"8"},{"hpc":0.98909,"hpt":0.97403,"cluster":"8"},{"hpc":0.99134,"hpt":0.97536,"cluster":"8"},{"hpc":0.99142,"hpt":0.97446,"cluster":"8"},{"hpc":0.9917,"hpt":0.97385,"cluster":"8"},{"hpc":0.9925,"hpt":0.97726,"cluster":"8"},{"hpc":0.99392,"hpt":0.97654,"cluster":"8"},{"hpc":0.99449,"hpt":0.97643,"cluster":"8"},{"hpc":0.99398,"hpt":0.97457,"cluster":"8"},{"hpc":0.99469,"hpt":0.97511,"cluster":"8"},{"hpc":0.99506,"hpt":0.97446,"cluster":"8"},{"hpc":0.99554,"hpt":0.97547,"cluster":"8"},{"hpc":0.99611,"hpt":0.97762,"cluster":"8"},{"hpc":0.99688,"hpt":0.97392,"cluster":"8"},{"hpc":0.99739,"hpt":0.97572,"cluster":"8"},{"hpc":0.9979,"hpt":0.97593,"cluster":"8"},{"hpc":0.99796,"hpt":0.97744,"cluster":"8"},{"hpc":0.99838,"hpt":0.97726,"cluster":"8"},{"hpc":0.99994,"hpt":0.97572,"cluster":"8"},{"hpc":0.99952,"hpt":0.97375,"cluster":"8"},{"hpc":0.99497,"hpt":0.97392,"cluster":"8"},{"hpc":0.99142,"hpt":0.97815,"cluster":"8"},
{"hpc":0.98801,"hpt":0.99971,"cluster":"9"},{"hpc":0.98864,"hpt":0.99942,"cluster":"9"},{"hpc":0.98909,"hpt":0.99978,"cluster":"9"},{"hpc":0.98787,"hpt":0.99917,"cluster":"9"},{"hpc":0.98824,"hpt":0.99928,"cluster":"9"},{"hpc":0.98858,"hpt":0.9987,"cluster":"9"},{"hpc":0.98901,"hpt":0.9982,"cluster":"9"},{"hpc":0.98949,"hpt":0.99835,"cluster":"9"},{"hpc":0.9902,"hpt":0.99935,"cluster":"9"},{"hpc":0.99094,"hpt":0.99935,"cluster":"9"},{"hpc":0.99128,"hpt":0.99917,"cluster":"9"},{"hpc":0.98702,"hpt":0.99655,"cluster":"9"},{"hpc":0.99,"hpt":0.99694,"cluster":"9"},{"hpc":0.99128,"hpt":0.99737,"cluster":"9"},{"hpc":0.99162,"hpt":0.99737,"cluster":"9"},{"hpc":0.99335,"hpt":0.99719,"cluster":"9"},{"hpc":0.99384,"hpt":0.99763,"cluster":"9"},{"hpc":0.99304,"hpt":0.99629,"cluster":"9"},{"hpc":0.9925,"hpt":0.99522,"cluster":"9"},{"hpc":0.99293,"hpt":0.99576,"cluster":"9"},{"hpc":0.99355,"hpt":0.99547,"cluster":"9"},{"hpc":0.99412,"hpt":0.99576,"cluster":"9"},{"hpc":0.99511,"hpt":0.99791,"cluster":"9"},{"hpc":0.99602,"hpt":0.9996,"cluster":"9"},{"hpc":0.99739,"hpt":0.99892,"cluster":"9"},{"hpc":0.99804,"hpt":0.99978,"cluster":"9"},{"hpc":0.99668,"hpt":0.99683,"cluster":"9"},{"hpc":0.99776,"hpt":0.99629,"cluster":"9"},{"hpc":0.99824,"hpt":0.99691,"cluster":"9"},{"hpc":0.99913,"hpt":0.99763,"cluster":"9"},{"hpc":0.99975,"hpt":0.99709,"cluster":"9"},{"hpc":0.99989,"hpt":0.99683,"cluster":"9"},{"hpc":0.99534,"hpt":0.99594,"cluster":"9"},{"hpc":0.99548,"hpt":0.99504,"cluster":"9"},{"hpc":0.99597,"hpt":0.99504,"cluster":"9"},{"hpc":0.99446,"hpt":0.99442,"cluster":"9"},{"hpc":0.99582,"hpt":0.99396,"cluster":"9"},{"hpc":0.99639,"hpt":0.99414,"cluster":"9"},{"hpc":0.99696,"hpt":0.99432,"cluster":"9"},{"hpc":0.99733,"hpt":0.99396,"cluster":"9"},{"hpc":0.99767,"hpt":0.99378,"cluster":"9"},{"hpc":0.99739,"hpt":0.99331,"cluster":"9"},{"hpc":0.99903,"hpt":0.99439,"cluster":"9"},{"hpc":0.98952,"hpt":0.99486,"cluster":"9"},{"hpc":0.99071,"hpt":0.99486,"cluster":"9"},{"hpc":0.9873,"hpt":0.99396,"cluster":"9"},{"hpc":0.98821,"hpt":0.99414,"cluster":"9"},{"hpc":0.98886,"hpt":0.99403,"cluster":"9"},{"hpc":0.9908,"hpt":0.99353,"cluster":"9"},{"hpc":0.98915,"hpt":0.99288,"cluster":"9"},{"hpc":0.98915,"hpt":0.99216,"cluster":"9"},{"hpc":0.99179,"hpt":0.99306,"cluster":"9"},{"hpc":0.99191,"hpt":0.99259,"cluster":"9"},{"hpc":0.98739,"hpt":0.99223,"cluster":"9"},{"hpc":0.99057,"hpt":0.99187,"cluster":"9"},{"hpc":0.99216,"hpt":0.99187,"cluster":"9"},{"hpc":0.99341,"hpt":0.99194,"cluster":"9"},{"hpc":0.99398,"hpt":0.99223,"cluster":"9"},{"hpc":0.99455,"hpt":0.99194,"cluster":"9"},{"hpc":0.99463,"hpt":0.99227,"cluster":"9"},{"hpc":0.9944,"hpt":0.99151,"cluster":"9"},{"hpc":0.99418,"hpt":0.99158,"cluster":"9"},{"hpc":0.99506,"hpt":0.99165,"cluster":"9"},{"hpc":0.99608,"hpt":0.99151,"cluster":"9"},{"hpc":0.9962,"hpt":0.99165,"cluster":"9"},{"hpc":0.99753,"hpt":0.99227,"cluster":"9"},{"hpc":0.9929,"hpt":0.99079,"cluster":"9"},{"hpc":0.99307,"hpt":0.99061,"cluster":"9"},{"hpc":0.99384,"hpt":0.99039,"cluster":"9"},{"hpc":0.99412,"hpt":0.99039,"cluster":"9"},{"hpc":0.99497,"hpt":0.99083,"cluster":"9"},{"hpc":0.99554,"hpt":0.99047,"cluster":"9"},{"hpc":0.98901,"hpt":0.99086,"cluster":"9"},{"hpc":0.99,"hpt":0.99061,"cluster":"9"},{"hpc":0.99043,"hpt":0.99133,"cluster":"9"},{"hpc":0.98773,"hpt":0.98993,"cluster":"9"},{"hpc":0.98759,"hpt":0.98982,"cluster":"9"},{"hpc":0.98838,"hpt":0.98968,"cluster":"9"},{"hpc":0.99199,"hpt":0.98993,"cluster":"9"},{"hpc":0.9981,"hpt":0.98975,"cluster":"9"},{"hpc":0.99968,"hpt":0.98986,"cluster":"9"},{"hpc":0.9883,"hpt":0.98809,"cluster":"9"},{"hpc":0.98921,"hpt":0.98827,"cluster":"9"},{"hpc":0.9902,"hpt":0.98795,"cluster":"9"},{"hpc":0.99114,"hpt":0.98784,"cluster":"9"},{"hpc":0.98767,"hpt":0.98712,"cluster":"9"},{"hpc":0.99625,"hpt":0.98874,"cluster":"9"},{"hpc":0.99642,"hpt":0.98849,"cluster":"9"},{"hpc":0.99733,"hpt":0.98712,"cluster":"9"},{"hpc":0.99739,"hpt":0.98683,"cluster":"9"}
],
"labels":[
{"cluster":"1","hpc":0.9646,"hpt":0.96337},{"cluster":"2","hpc":0.96443,"hpt":0.97728},{"cluster":"3","hpc":0.964,"hpt":0.99053},
{"cluster":"4","hpc":0.97694,"hpt":0.96358},{"cluster":"5","hpc":0.97626,"hpt":0.97686},{"cluster":"6","hpc":0.97694,"hpt":0.99085},
{"cluster":"7","hpc":0.98996,"hpt":0.9637},{"cluster":"8","hpc":0.9903,"hpt":0.97664},{"cluster":"9","hpc":0.9903,"hpt":0.99053}
],
"bounds":[{"pos":0.973333},{"pos":0.986667}]
},
"layer":[
{"data":{"name":"bounds"},"mark":{"type":"rule","color":"#222222","strokeWidth":1.2,"strokeDash":[1.5,4.5]},
 "encoding":{"x":{"field":"pos","type":"quantitative","scale":{"domain":[0.96,1],"nice":false,"zero":false},"axis":null}}},
{"data":{"name":"bounds"},"mark":{"type":"rule","color":"#222222","strokeWidth":1.2,"strokeDash":[1.5,4.5]},
 "encoding":{"y":{"field":"pos","type":"quantitative","scale":{"domain":[0.96,1],"nice":false,"zero":false},"axis":null}}},
{"data":{"name":"points"},"mark":{"type":"circle","size":22,"opacity":1},
 "encoding":{
  "x":{"field":"hpc","type":"quantitative","scale":{"domain":[0.96,1],"nice":false,"zero":false},"title":"HPC health parameter",
       "axis":{"orient":"bottom","values":[0.965,0.97,0.975,0.98,0.985,0.99,0.995,1],"format":".3~f","labelPadding":15,"titlePadding":3}},
  "y":{"field":"hpt","type":"quantitative","scale":{"domain":[0.96,1],"nice":false,"zero":false},"title":"HPT health parameter",
       "axis":{"orient":"left","values":[0.965,0.97,0.975,0.98,0.985,0.99,0.995,1],"format":".3~f","labelPadding":9,"titlePadding":5}},
  "color":{"field":"cluster","type":"nominal","legend":null,
       "scale":{"domain":["1","2","3","4","5","6","7","8","9"],"range":["#8b3a08","#c4533d","#f565ee","#1f8196","#8c973c","#67acd8","#46cf9d","#fbdc68","#a6ef06"]}}}},
{"data":{"name":"labels"},"mark":{"type":"text","font":"Liberation Sans","fontWeight":"bold","fontSize":21,"color":"black","baseline":"middle","align":"center"},
 "encoding":{
  "x":{"field":"hpc","type":"quantitative","scale":{"domain":[0.96,1],"nice":false,"zero":false},"axis":null},
  "y":{"field":"hpt","type":"quantitative","scale":{"domain":[0.96,1],"nice":false,"zero":false},"axis":null},
  "text":{"field":"cluster","type":"nominal"}}},
{"data":{"name":"labels"},"mark":{"type":"point","opacity":0},
 "encoding":{
  "x":{"field":"hpc","type":"quantitative","scale":{"domain":[0.96,1],"nice":false,"zero":false},"axis":{"orient":"top","labels":false,"title":null,"values":[0.965,0.97,0.975,0.98,0.985,0.99,0.995,1]}},
  "y":{"field":"hpt","type":"quantitative","scale":{"domain":[0.96,1],"nice":false,"zero":false},"axis":{"orient":"right","labels":false,"title":null,"values":[0.965,0.97,0.975,0.98,0.985,0.99,0.995,1]}}}}
],
"resolve":{"axis":{"x":"independent","y":"independent"}}
}
